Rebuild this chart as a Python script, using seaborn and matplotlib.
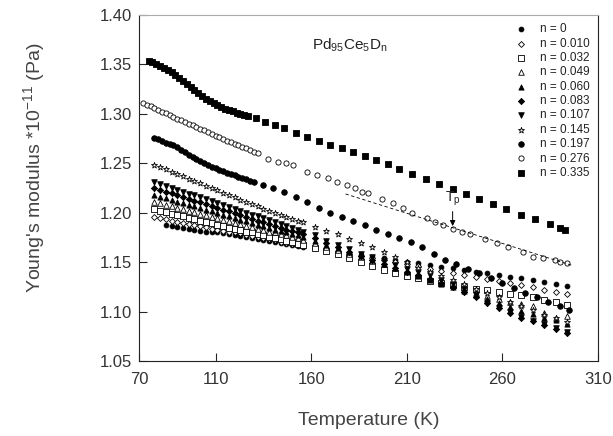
import numpy as np
import pandas as pd
import matplotlib.pyplot as plt
import seaborn as sns

sns.set_style("ticks")
plt.rcParams['font.family'] = ['Liberation Sans', 'DejaVu Sans']
plt.rcParams['mathtext.fontset'] = 'custom'
plt.rcParams['mathtext.rm'] = 'Liberation Sans'
plt.rcParams['mathtext.it'] = 'Liberation Sans:italic'

# ---- data ----
# shared temperature grid for the eight lower curves
temp_low = [78, 81, 84, 87, 90, 93, 96, 99, 102, 105, 108, 111, 114, 117, 120, 123, 126, 129,
            132, 135, 138, 141, 144, 147, 150, 153, 156,
            162, 168, 174, 180, 186, 192, 198, 204, 210, 216, 222, 228, 234, 240, 246, 252,
            258, 264, 270, 276, 282, 288, 294]

ym_000 = [np.nan, np.nan, 1.188, 1.187, 1.186, 1.185, 1.184, 1.183, 1.182, 1.181, 1.180, 1.180, 1.179,
          1.178, 1.177, 1.176, 1.175, 1.174, 1.173, 1.172, 1.171, 1.170, 1.169, 1.168, 1.167, 1.166, 1.165,
          1.164, 1.162, 1.160, 1.159, 1.157, 1.155, 1.154, 1.152, 1.150, 1.149, 1.147, 1.145, 1.144, 1.142,
          1.140, 1.139, 1.137, 1.135, 1.134, 1.132, 1.130, 1.128, 1.126]
ym_010 = [1.196, 1.195, 1.194, 1.192, 1.191, 1.190, 1.189, 1.188, 1.187, 1.186, 1.184, 1.183, 1.182,
          1.181, 1.180, 1.179, 1.177, 1.176, 1.175, 1.174, 1.173, 1.172, 1.170, 1.169, 1.168, 1.167, 1.166,
          1.164, 1.162, 1.160, 1.158, 1.156, 1.154, 1.152, 1.150, 1.148, 1.146, 1.143, 1.141, 1.139, 1.137,
          1.135, 1.133, 1.131, 1.129, 1.127, 1.125, 1.122, 1.120, 1.118]
ym_032 = [1.204, 1.202, 1.201, 1.199, 1.198, 1.197, 1.195, 1.194, 1.192, 1.191, 1.190, 1.188, 1.187,
          1.185, 1.184, 1.183, 1.181, 1.180, 1.178, 1.177, 1.175, 1.174, 1.173, 1.171, 1.170, 1.168, 1.167,
          1.164, 1.161, 1.158, 1.154, 1.150, 1.146, 1.142, 1.139, 1.136, 1.134, 1.131, 1.129, 1.127, 1.125,
          1.123, 1.122, 1.120, 1.118, 1.117, 1.115, 1.112, 1.110, 1.107]
ym_049 = [1.211, 1.210, 1.208, 1.207, 1.205, 1.204, 1.202, 1.201, 1.199, 1.198, 1.196, 1.195, 1.193,
          1.192, 1.190, 1.189, 1.187, 1.186, 1.184, 1.183, 1.181, 1.180, 1.178, 1.177, 1.175, 1.174, 1.172,
          1.169, 1.165, 1.162, 1.158, 1.155, 1.151, 1.148, 1.144, 1.141, 1.137, 1.134, 1.130, 1.127, 1.123,
          1.119, 1.116, 1.113, 1.110, 1.108, 1.106, 1.099, 1.094, 1.096]
ym_060 = [1.218, 1.216, 1.215, 1.213, 1.211, 1.210, 1.208, 1.207, 1.205, 1.203, 1.202, 1.200, 1.198,
          1.197, 1.195, 1.193, 1.192, 1.190, 1.188, 1.187, 1.185, 1.183, 1.182, 1.180, 1.178, 1.177, 1.175,
          1.171, 1.167, 1.164, 1.160, 1.156, 1.152, 1.148, 1.144, 1.140, 1.136, 1.132, 1.128, 1.125, 1.121,
          1.117, 1.113, 1.109, 1.105, 1.101, 1.098, 1.094, 1.091, 1.087]
ym_083 = [1.225, 1.223, 1.221, 1.220, 1.218, 1.216, 1.214, 1.212, 1.211, 1.209, 1.207, 1.205, 1.203,
          1.202, 1.200, 1.198, 1.196, 1.194, 1.192, 1.191, 1.189, 1.187, 1.185, 1.183, 1.182, 1.180, 1.178,
          1.174, 1.169, 1.165, 1.160, 1.156, 1.152, 1.148, 1.144, 1.140, 1.137, 1.133, 1.129, 1.125, 1.120,
          1.115, 1.109, 1.104, 1.099, 1.094, 1.090, 1.086, 1.082, 1.078]
ym_107 = [1.231, 1.229, 1.227, 1.225, 1.223, 1.221, 1.219, 1.218, 1.216, 1.214, 1.212, 1.210, 1.208,
          1.206, 1.204, 1.202, 1.200, 1.198, 1.197, 1.195, 1.193, 1.191, 1.189, 1.187, 1.185, 1.183, 1.181,
          1.177, 1.171, 1.167, 1.163, 1.158, 1.155, 1.151, 1.147, 1.143, 1.140, 1.137, 1.132, 1.128, 1.123,
          1.117, 1.109, 1.104, 1.100, 1.095, 1.090, 1.087, 1.083, 1.079]
ym_145 = [1.248, 1.246, 1.244, 1.241, 1.239, 1.237, 1.234, 1.232, 1.230, 1.227, 1.225, 1.223, 1.220,
          1.218, 1.216, 1.213, 1.211, 1.209, 1.207, 1.204, 1.202, 1.200, 1.198, 1.196, 1.194, 1.192, 1.191,
          1.186, 1.182, 1.178, 1.173, 1.169, 1.165, 1.160, 1.155, 1.150, 1.144, 1.140, 1.136, 1.132, 1.128,
          1.123, 1.119, 1.115, 1.110, 1.106, 1.102, 1.097, 1.093, 1.089]

temp_197 = [78, 80, 82, 84, 86, 88, 90, 92, 94, 96, 98, 100, 102, 104, 106, 108, 110, 112, 114, 116,
            118, 120, 122, 124, 126, 128, 130,
            135, 140, 146, 152, 158, 164, 170, 176, 182, 188, 194, 200, 206, 212, 218, 224, 230, 236,
            242, 248, 254, 260, 266, 272, 278, 284, 290, 295]
ym_197 = [1.276, 1.275, 1.273, 1.271, 1.270, 1.268, 1.266, 1.263, 1.261, 1.258, 1.256, 1.254, 1.252,
          1.250, 1.248, 1.246, 1.245, 1.243, 1.242, 1.240, 1.239, 1.238, 1.236, 1.235, 1.234, 1.232, 1.231,
          1.228, 1.225, 1.221, 1.216, 1.211, 1.205, 1.200, 1.196, 1.192, 1.188, 1.183, 1.178, 1.174, 1.170,
          1.165, 1.158, 1.152, 1.148, 1.143, 1.139, 1.134, 1.129, 1.124, 1.119, 1.115, 1.110, 1.106, 1.102]

temp_276 = [72, 74, 76, 78, 80, 82, 84, 86, 88, 90, 92, 94, 96, 98, 100, 102, 104, 106, 108, 110,
            112, 114, 116, 118, 120, 122, 124, 126, 128, 130, 132,
            137.5, 142.7, 147, 150.5, 158, 163, 169, 173.5, 178.8, 183, 186.6, 189.7, 197, 202.8, 208,
            213, 220.6, 224.8, 229, 234, 239, 243, 251, 257, 263, 271, 276, 281, 287.5, 290, 293.8]
ym_276 = [1.311, 1.309, 1.308, 1.306, 1.304, 1.302, 1.301, 1.299, 1.297, 1.295, 1.294, 1.292, 1.290,
          1.289, 1.287, 1.285, 1.284, 1.282, 1.280, 1.278, 1.277, 1.275, 1.273, 1.272, 1.270, 1.268, 1.266,
          1.265, 1.263, 1.261, 1.260,
          1.254, 1.251, 1.250, 1.248, 1.241, 1.238, 1.235, 1.231, 1.228, 1.225, 1.221, 1.220, 1.214, 1.210,
          1.205, 1.200, 1.195, 1.191, 1.188, 1.1835, 1.180, 1.178, 1.173, 1.169, 1.165, 1.160, 1.155, 1.154,
          1.152, 1.150, 1.149]

temp_335 = [75, 77, 79, 81, 83, 85, 87, 89, 91, 93, 95, 97, 99, 101, 103, 105, 107, 109, 111, 113,
            115, 117, 119, 121, 123, 125, 127,
            131, 136, 141, 146, 152, 158, 164, 170, 176, 182, 188, 194, 200, 206, 213, 220, 227, 234,
            241, 248, 255, 262, 270, 277, 285, 290, 293]
ym_335 = [1.353, 1.352, 1.350, 1.348, 1.346, 1.344, 1.342, 1.339, 1.336, 1.333, 1.330, 1.327, 1.324,
          1.321, 1.318, 1.315, 1.313, 1.311, 1.309, 1.307, 1.305, 1.304, 1.303, 1.301, 1.300, 1.299, 1.298,
          1.296, 1.292, 1.289, 1.286, 1.281, 1.277, 1.273, 1.269, 1.265, 1.261, 1.257, 1.253, 1.249, 1.244,
          1.239, 1.234, 1.229, 1.224, 1.219, 1.214, 1.209, 1.204, 1.198, 1.194, 1.189, 1.185, 1.183]

# high-temperature linear fit through the n = 0.276 points, and the Tp mark
fit_temp = [178, 296]
fit_ym = [1.219, 1.147]
tp_temp = 234
tp_ym = 1.1865

labels = ["n = 0", "n = 0.010", "n = 0.032", "n = 0.049", "n = 0.060", "n = 0.083",
          "n = 0.107", "n = 0.145", "n = 0.197", "n = 0.276", "n = 0.335"]
xticks = [70, 110, 160, 210, 260, 310]
yticks = [1.05, 1.10, 1.15, 1.20, 1.25, 1.30, 1.35, 1.40]

# (temps, values, marker, filled, size)
series = [
    (temp_low, ym_000, "o", True, 12),
    (temp_low, ym_010, "D", False, 9),
    (temp_low, ym_032, "s", False, 16),
    (temp_low, ym_049, "^", False, 16),
    (temp_low, ym_060, "^", True, 14),
    (temp_low, ym_083, "D", True, 10),
    (temp_low, ym_107, "v", True, 16),
    (temp_low, ym_145, "*", False, 20),
    (temp_197, ym_197, "o", True, 16),
    (temp_276, ym_276, "o", False, 14),
    (temp_335, ym_335, "s", True, 20),
]

fig = plt.figure(figsize=(6.13, 4.36), dpi=100)
ax = fig.add_axes([0.2268, 0.172, 0.7487, 0.7936])

for temps, vals, m, filled, s in series:
    sns.scatterplot(x=temps, y=vals, marker=m, s=s,
                    color="black" if filled else "white",
                    edgecolor="black", linewidth=0.6, ax=ax, legend=False)

sns.lineplot(x=fit_temp, y=fit_ym, color="black", lw=0.6, dashes=False,
             linestyle=(0, (4, 3)), ax=ax, legend=False)

ax.annotate("T$_\\mathrm{p}$", xy=(tp_temp, tp_ym), xytext=(tp_temp, 1.2045),
            ha="center", va="bottom", fontsize=10, color="#222222",
            arrowprops=dict(arrowstyle="-|>", color="black", lw=0.7,
                            mutation_scale=8, shrinkA=0, shrinkB=0))

ax.text(160.5, 1.3645, "Pd$_{95}$Ce$_{5}$D$_\\mathrm{n}$", fontsize=11, color="#222222")

ax.legend(ax.collections[:len(labels)], labels, loc="upper right",
          bbox_to_anchor=(1.0, 1.0), frameon=False, fontsize=8.5,
          labelspacing=0.2, handletextpad=0.6, borderaxespad=0.3,
          labelcolor="#222222")

ax.set_xlim(70, 310)
ax.set_ylim(1.05, 1.40)
ax.set_xticks(xticks)
ax.set_yticks(yticks)
ax.set_xticklabels([str(t) for t in xticks])
ax.set_yticklabels([f"{t:.2f}" for t in yticks])
ax.tick_params(direction="in", length=6, width=0.8, labelsize=12, labelcolor="#333333")
ax.tick_params(axis="x", pad=8)
ax.tick_params(axis="y", pad=5)

ax.set_xlabel("Temperature (K)", fontsize=14, color="#444444", labelpad=18)
ax.set_ylabel("Young's modulus $*$10$^{-11}$ (Pa)", fontsize=14, color="#444444")
ax.yaxis.set_label_coords(-0.2, 0.56)

for side in ["left", "bottom", "right"]:
    ax.spines[side].set_visible(True)
    ax.spines[side].set_linewidth(0.8)
    ax.spines[side].set_color("#222222")
ax.spines["top"].set_visible(True)
ax.spines["top"].set_linewidth(0.8)
ax.spines["top"].set_color("#aaaaaa")

fig.savefig("out.png", dpi=100)
